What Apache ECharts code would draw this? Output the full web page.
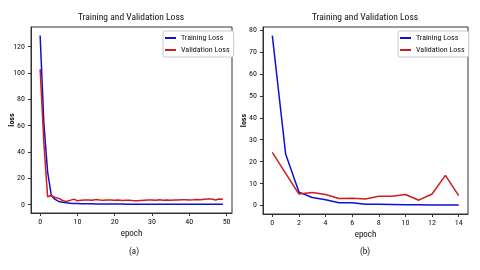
<!DOCTYPE html>
<html><head><meta charset="utf-8">
<script src="https://cdn.jsdelivr.net/npm/echarts@6/dist/echarts.min.js"></script>
<style>html,body{margin:0;padding:0;background:#fff}#c{width:480px;height:270px}</style>
</head><body><div id="c"></div>
<script>
const FONT = "'Roboto Condensed','DejaVu Sans Condensed',sans-serif";
// Chart (a): 50 epochs
const epochsA = Array.from({length:50},(_,i)=>i);
const trainA = [128.5,62,25,7,4,2.5,1.8,1.4,1.2,1.0,0.9,0.8,0.8,0.7,0.7,0.6,0.6,0.6,0.5,0.5,
  0.5,0.5,0.5,0.4,0.4,0.4,0.4,0.4,0.4,0.4,0.4,0.4,0.3,0.3,0.3,0.3,0.3,0.3,0.3,0.3,
  0.3,0.3,0.3,0.3,0.3,0.3,0.3,0.3,0.3,0.3];
const valA = [103,47,6,7,5.5,4.8,3.2,2.5,3.3,4.2,3.0,3.4,3.5,3.6,3.4,4.0,3.5,3.4,3.5,3.6,
  3.3,3.5,3.2,3.4,3.3,3.1,3.0,3.2,3.4,3.5,3.6,3.3,3.7,3.4,3.5,3.3,3.6,3.5,3.7,3.8,
  3.6,3.7,3.9,3.8,4.2,4.4,4.3,3.6,4.3,4.2];
const xTicksA = [0,10,20,30,40,50];
const yTicksA = [0,20,40,60,80,100,120];
// Chart (b): 15 epochs
const epochsB = Array.from({length:15},(_,i)=>i);
const trainB = [77.5,23.5,6.1,3.6,2.6,1.2,1.2,0.6,0.5,0.4,0.3,0.3,0.2,0.2,0.2];
const valB = [24.2,14.6,5.2,5.9,5.0,3.2,3.3,2.9,4.2,4.2,5.0,2.4,5.2,13.7,4.5];
const xTicksB = [0,2,4,6,8,10,12,14];
const yTicksB = [0,10,20,30,40,50,60,70,80];

const BLUE = '#1010d0', RED = '#d01c1c';
const pairs = (xs, ys) => xs.map((x,i)=>[x, ys[i]]);

function xAx(idx, min, max, ticks){
  return {type:'value', gridIndex:idx, min:min, max:max, name:'epoch', nameLocation:'middle', nameGap:16,
    nameMoveOverlap:false,
    nameTextStyle:{fontFamily:FONT,fontSize:9,color:'#111'},
    axisLine:{show:true,onZero:false,lineStyle:{color:'#333',width:1}},
    axisTick:{show:true,length:3,customValues:ticks,lineStyle:{color:'#333'}},
    axisLabel:{customValues:ticks,margin:5,fontFamily:FONT,fontSize:8,color:'#111'},
    splitLine:{show:false}};
}
function yAx(idx, min, max, ticks){
  return {type:'value', gridIndex:idx, min:min, max:max, name:'loss', nameLocation:'middle', nameGap:15,
    nameMoveOverlap:false,
    nameTextStyle:{fontFamily:FONT,fontSize:8,fontWeight:'bold',color:'#111'},
    axisLine:{show:true,onZero:false,lineStyle:{color:'#333',width:1}},
    axisTick:{show:true,length:3,customValues:ticks,lineStyle:{color:'#333'}},
    axisLabel:{customValues:ticks,margin:6,fontFamily:FONT,fontSize:8,color:'#111'},
    splitLine:{show:false}};
}
function ser(name, idx, data, color){
  return {name:name, type:'line', xAxisIndex:idx, yAxisIndex:idx, data:data, symbol:'none',
    lineStyle:{color:color,width:1.5}, itemStyle:{color:color}, animation:false};
}
function legend(left){
  return {left:left, top:31, orient:'vertical', data:['Training Loss','Validation Loss'],
    icon:'rect', itemWidth:11, itemHeight:2, itemGap:4, padding:[3,4,3,2],
    borderColor:'#ccc', borderWidth:1, borderRadius:2, backgroundColor:'#fff',
    textStyle:{fontFamily:FONT,fontSize:8,color:'#111'}, selectedMode:false};
}
function txt(x,y,s,size){
  return {type:'text', x:x, y:y, style:{text:s, x:0, y:0, align:'center', verticalAlign:'middle',
    font: size+'px '+FONT, fill:'#111'}};
}
const chart = echarts.init(document.getElementById('c'), null, {renderer:'canvas'});
chart.setOption({
  animation:false,
  grid:[
    {left:31, top:27, width:201, height:186, show:true, borderColor:'#333', borderWidth:1, backgroundColor:'transparent'},
    {left:263, top:27, width:205, height:187, show:true, borderColor:'#333', borderWidth:1, backgroundColor:'transparent'}
  ],
  xAxis:[xAx(0,-2.45,51.45,xTicksA), xAx(1,-0.7,14.7,xTicksB)],
  yAxis:[yAx(0,-6.3,135,yTicksA), yAx(1,-3.9,81.4,yTicksB)],
  legend:[legend(163), legend(398)],
  series:[
    ser('Training Loss',0,pairs(epochsA,trainA),BLUE),
    ser('Validation Loss',0,pairs(epochsA,valA),RED),
    ser('Training Loss',1,pairs(epochsB,trainB),BLUE),
    ser('Validation Loss',1,pairs(epochsB,valB),RED)
  ],
  graphic:[
    txt(131,18,'Training and Validation Loss',9.5),
    txt(365,18,'Training and Validation Loss',9.5),
    txt(134,252,'(a)',9),
    txt(365,252,'(b)',9)
  ]
});
</script></body></html>
